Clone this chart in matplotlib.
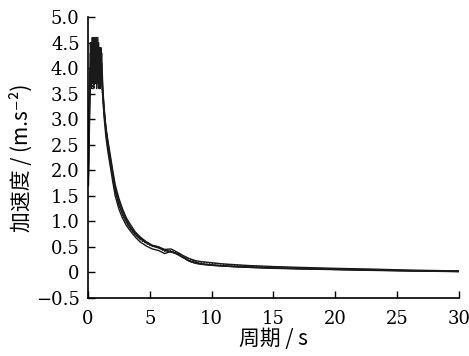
import matplotlib as mpl

mpl.use('Agg')
import matplotlib.pyplot as plt

# periods (s)
period = [0.04, 0.1, 0.15, 0.2, 0.25, 0.3, 0.35, 0.4, 0.45, 0.5,
          0.55, 0.6, 0.65, 0.7, 0.75, 0.8, 0.85, 0.9, 0.95, 1.0,
          1.05, 1.1, 1.2, 1.3, 1.45, 1.6, 1.8, 2.0, 2.2, 2.5,
          2.8, 3.1, 3.4, 3.8, 4.2, 4.7, 5.2, 5.7, 6.2, 6.7,
          7.2, 7.7, 8.2, 8.7, 9.2, 10, 11, 12, 13, 15,
          17, 20, 23, 26, 30]

# response spectra of the records (m/s^2)
acc_1 = [1.9, 2.8, 3.5, 4.3, 3.9, 4.5, 3.7, 4.2, 4.6, 3.8,
         4.4, 4.0, 4.5, 3.6, 4.2, 4.4, 3.9, 4.3, 3.7, 3.9,
         4.2, 3.9, 3.5, 3.2, 2.85, 2.6, 2.3, 2.0, 1.72, 1.45,
         1.24, 1.07, 0.95, 0.8, 0.7, 0.6, 0.53, 0.5, 0.45, 0.46,
         0.4, 0.33, 0.27, 0.23, 0.21, 0.19, 0.165, 0.15, 0.135, 0.115,
         0.1, 0.08, 0.065, 0.045, 0.03]
acc_2 = [2.4, 3.2, 3.9, 3.7, 4.4, 3.9, 4.6, 3.8, 4.1, 4.5,
         3.7, 4.3, 3.9, 4.6, 4.0, 3.7, 4.5, 3.8, 4.1, 3.6,
         3.9, 4.3, 3.6, 3.25, 2.8, 2.55, 2.25, 1.95, 1.65, 1.4,
         1.2, 1.03, 0.9, 0.78, 0.68, 0.6, 0.53, 0.5, 0.44, 0.41,
         0.36, 0.29, 0.23, 0.2, 0.17, 0.15, 0.13, 0.12, 0.11, 0.09,
         0.075, 0.06, 0.05, 0.035, 0.02]
acc_3 = [1.7, 2.6, 3.3, 4.0, 3.6, 4.2, 3.9, 4.5, 3.7, 4.0,
         4.6, 3.8, 4.2, 3.9, 4.5, 3.8, 4.1, 3.6, 4.4, 3.8,
         4.4, 3.8, 3.4, 3.05, 2.65, 2.38, 2.08, 1.78, 1.5, 1.24,
         1.06, 0.92, 0.82, 0.7, 0.6, 0.52, 0.46, 0.43, 0.37, 0.41,
         0.36, 0.29, 0.22, 0.18, 0.16, 0.14, 0.125, 0.11, 0.1, 0.08,
         0.07, 0.055, 0.04, 0.03, 0.015]
acc_4 = [2.1, 3.0, 3.6, 4.5, 4.0, 3.7, 4.3, 4.0, 3.6, 4.4,
         4.1, 3.7, 4.6, 4.0, 3.8, 4.3, 3.7, 4.2, 3.9, 4.1,
         3.8, 4.1, 3.55, 3.15, 2.8, 2.5, 2.18, 1.88, 1.6, 1.33,
         1.14, 0.99, 0.87, 0.75, 0.66, 0.58, 0.52, 0.48, 0.43, 0.4,
         0.37, 0.3, 0.22, 0.18, 0.16, 0.14, 0.125, 0.11, 0.1, 0.085,
         0.075, 0.06, 0.045, 0.03, 0.02]
acc_5 = [2.6, 3.4, 4.0, 3.9, 4.5, 4.0, 3.6, 4.4, 3.9, 3.6,
         4.3, 4.5, 3.8, 4.1, 3.7, 4.6, 4.0, 3.9, 4.2, 3.7,
         4.0, 3.7, 3.45, 3.1, 2.75, 2.45, 2.15, 1.85, 1.57, 1.3,
         1.12, 0.97, 0.86, 0.74, 0.64, 0.57, 0.51, 0.49, 0.41, 0.43,
         0.38, 0.32, 0.26, 0.22, 0.2, 0.18, 0.16, 0.14, 0.125, 0.105,
         0.09, 0.07, 0.055, 0.04, 0.025]

x_ticks = [0, 5, 10, 15, 20, 25, 30]
y_ticks = [-0.5, 0, 0.5, 1.0, 1.5, 2.0, 2.5, 3.0, 3.5, 4.0, 4.5, 5.0]
y_tick_labels = ['\u22120.5', '0', '0.5', '1.0', '1.5', '2.0', '2.5',
                 '3.0', '3.5', '4.0', '4.5', '5.0']

cjk = ['Noto Sans CJK SC', 'DejaVu Sans']

fig = plt.figure(figsize=(4.69, 3.56), dpi=100)
ax = fig.add_axes([0.1876, 0.163, 0.791, 0.789])

styles = ['-', '-', '-', '-', (0, (1, 1))]
for acc, ls in zip([acc_1, acc_2, acc_3, acc_4, acc_5], styles):
    ax.plot(period, acc, color='#1a1a1a', lw=1.0, ls=ls)

ax.set_xlim(0, 30)
ax.set_ylim(-0.5, 5.0)
ax.set_xticks(x_ticks)
ax.set_xticklabels([str(t) for t in x_ticks])
ax.set_yticks(y_ticks)
ax.set_yticklabels(y_tick_labels)
for lab in ax.get_xticklabels() + ax.get_yticklabels():
    lab.set_family('DejaVu Serif')
    lab.set_fontsize(13)
ax.tick_params(direction='in', length=5, width=1)
ax.tick_params(axis='x', pad=9)
ax.tick_params(axis='y', pad=6)
ax.spines['top'].set_visible(False)
ax.spines['right'].set_visible(False)
ax.spines['left'].set_linewidth(1.2)
ax.spines['bottom'].set_linewidth(1.2)

ax.set_xlabel('周期 / s', family=cjk, fontsize=15, labelpad=0)
ax.set_ylabel('加速度 / (m.s\u207b\u00b2)', family=cjk, fontsize=15,
              labelpad=2)

fig.savefig('out.png', dpi=100)
